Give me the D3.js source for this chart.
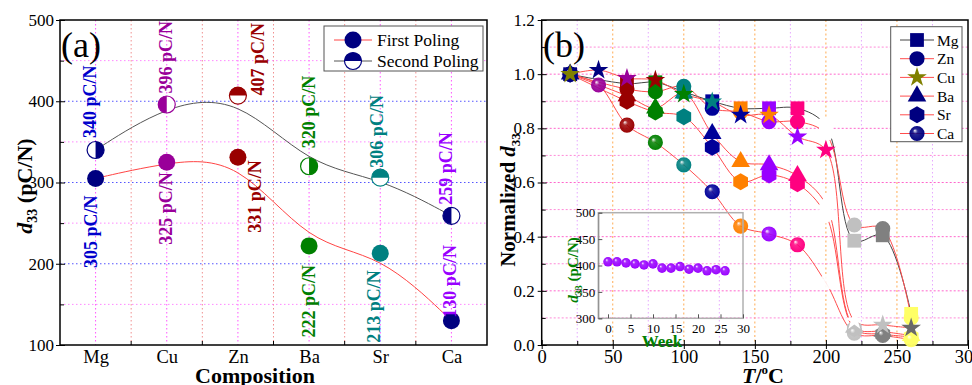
<!DOCTYPE html>
<html>
<head>
<meta charset="utf-8">
<script src="https://cdn.jsdelivr.net/npm/d3@7"></script>
<style>
body { margin: 0; background: #fff; }
svg text { font-family: "Liberation Serif", "Times New Roman", serif; }
</style>
</head>
<body>
<div id="chart"></div>
<script>
// ---- panel (a) data ----
var compositions = ["Mg", "Cu", "Zn", "Ba", "Sr", "Ca"];
var firstPoling = [305, 325, 331, 222, 213, 130];
var secondPoling = [340, 396, 407, 320, 306, 259];
var pointColors = ["#000080", "#990099", "#990000", "#008000", "#008080", "#000080"];
var labelColors = ["#0000cc", "#990099", "#990000", "#008000", "#008080", "#9900ff"];
var aTicks = [100, 200, 300, 400, 500];

// ---- panel (b) data ----
var temps = [20, 40, 60, 80, 100, 120, 140, 160, 180, 200, 220, 240, 260];
var mgVals = [1.0, null, 0.965, 0.97, 0.935, 0.90, 0.874, 0.874, 0.874, 0.81, 0.385, 0.405, 0.115];
var znVals = [1.0, null, 0.945, 0.935, 0.955, 0.874, 0.86, 0.825, 0.825, 0.78, 0.443, 0.43, 0.10];
var cuVals = [1.0, 1.015, 0.985, 0.978, 0.926, 0.898, 0.849, 0.849, 0.769, 0.72, 0.09, 0.074, 0.063];
var baVals = [1.0, null, 0.92, 0.875, 0.93, 0.78, 0.677, 0.665, 0.625, 0.52, 0.065, 0.05, 0.035];
var srVals = [1.0, null, 0.90, 0.86, 0.843, 0.73, 0.603, 0.628, 0.595, 0.48, 0.06, 0.04, 0.03];
var caVals = [1.0, 0.96, 0.812, 0.748, 0.665, 0.566, 0.439, 0.41, 0.37, 0.23, 0.044, 0.035, 0.02];
var tempColors = ["#000080", "#990099", "#990000", "#008000", "#008080", "#000099", "#ff8000",
                  "#9900ff", "#ff0080", "#ffffff", "#c0c0c0", "#808080", "#ffff66"];
var cuColors = ["#808000", "#000080", "#990099", "#990000", "#008000", "#008080", "#000099",
                "#ff8000", "#9900ff", "#ff0080", "#ffffff", "#c0c0c0", "#6a6a6a"];
var bTicksX = [0, 50, 100, 150, 200, 250, 300];
var bTicksY = [0, 0.2, 0.4, 0.6, 0.8, 1.0, 1.2];

// ---- inset data ----
var weeks = [0, 2, 4, 6, 8, 10, 12, 14, 16, 18, 20, 22, 24, 26];
var weekD33 = [407, 407, 405, 403, 401, 403, 395, 395, 398, 393, 395, 390, 392, 390];
var insetTicksX = [0, 5, 10, 15, 20, 25, 30];
var insetTicksY = [300, 350, 400, 450, 500];

var svg = d3.select("#chart").append("svg")
    .attr("width", 972)
    .attr("height", 385);

var defs = svg.append("defs");

// ================= panel (a) =================
var aLeft = 60, aRight = 487, aTop = 20, aBottom = 345;

var xA = d3.scalePoint().domain(compositions).range([aLeft, aRight]).padding(0.5);
var yA = d3.scaleLinear().domain([100, 500]).range([aBottom, aTop]);
var stepA = xA.step();

var gA = svg.append("g");

// grid
compositions.forEach(function(c, i) {
    gA.append("line").attr("x1", xA(c)).attr("x2", xA(c)).attr("y1", aTop).attr("y2", aBottom)
        .attr("stroke", "#ff55ff").attr("stroke-dasharray", "1.5,2.5");
    if (i < compositions.length - 1) {
        gA.append("line").attr("x1", xA(c) + stepA / 2).attr("x2", xA(c) + stepA / 2)
            .attr("y1", aTop).attr("y2", aBottom)
            .attr("stroke", "#f09090").attr("stroke-dasharray", "1.5,2.5");
    }
});
[150, 250, 350, 450].forEach(function(v) {
    gA.append("line").attr("x1", aLeft).attr("x2", aRight).attr("y1", yA(v)).attr("y2", yA(v))
        .attr("stroke", "#ff88ff").attr("stroke-dasharray", "1.5,2.5");
});
[200, 300, 400].forEach(function(v) {
    gA.append("line").attr("x1", aLeft).attr("x2", aRight).attr("y1", yA(v)).attr("y2", yA(v))
        .attr("stroke", "#5555ff").attr("stroke-dasharray", "1.5,2.5");
});

// axes
var yAxisA = gA.append("g").attr("transform", "translate(" + aLeft + ",0)")
    .call(d3.axisLeft(yA).tickValues(aTicks).tickSize(4).tickPadding(2));
yAxisA.selectAll(".tick line").attr("x2", -4).attr("x1", 5);
yAxisA.select(".domain").remove();
yAxisA.selectAll("text").attr("font-size", 17).attr("fill", "#000")
    .style("font-family", "Liberation Serif");
gA.append("g").attr("transform", "translate(" + aLeft + ",0)")
    .call(d3.axisLeft(yA).tickValues([150, 250, 350, 450]).tickSize(-4).tickFormat(""))
    .select(".domain").remove();

var xAxisA = gA.append("g").attr("transform", "translate(0," + aBottom + ")")
    .call(d3.axisBottom(xA).tickSize(0).tickPadding(5));
xAxisA.select(".domain").remove();
xAxisA.selectAll("text").attr("font-size", 18.5).attr("fill", "#000")
    .style("font-family", "Liberation Serif");
compositions.slice(0, -1).forEach(function(c) {
    gA.append("line").attr("x1", xA(c) + stepA / 2).attr("x2", xA(c) + stepA / 2)
        .attr("y1", aBottom).attr("y2", aBottom - 4).attr("stroke", "#000");
});

gA.append("rect").attr("x", aLeft).attr("y", aTop)
    .attr("width", aRight - aLeft).attr("height", aBottom - aTop)
    .attr("fill", "none").attr("stroke", "#000").attr("stroke-width", 1.5);

// fitted curves
var lineA = d3.line().x(function(d, i) { return xA(compositions[i]); })
    .y(function(d) { return yA(d); }).curve(d3.curveBasis);
gA.append("path").attr("d", lineA(secondPoling)).attr("fill", "none")
    .attr("stroke", "#555").attr("stroke-width", 1);
gA.append("path").attr("d", lineA(firstPoling)).attr("fill", "none")
    .attr("stroke", "#ff4444").attr("stroke-width", 1);

var halfArc = d3.arc().innerRadius(0).outerRadius(8.5);
// which half of the second-poling markers is coloured (angle of the filled half)
var halfAngle = [90, 270, 0, 90, 0, 270];

function halfCircle(g, cx, cy, color, angle) {
    g.append("circle").attr("cx", cx).attr("cy", cy).attr("r", 8.5)
        .attr("fill", "#fff").attr("stroke", color).attr("stroke-width", 1.2);
    g.append("path")
        .attr("d", halfArc({ startAngle: -Math.PI / 2, endAngle: Math.PI / 2 }))
        .attr("transform", "translate(" + cx + "," + cy + ") rotate(" + angle + ")")
        .attr("fill", color);
}

compositions.forEach(function(c, i) {
    gA.append("circle").attr("cx", xA(c)).attr("cy", yA(firstPoling[i])).attr("r", 8.5)
        .attr("fill", pointColors[i]);
    halfCircle(gA, xA(c), yA(secondPoling[i]), pointColors[i], halfAngle[i]);
});

// value labels: [dx, gap] offsets for second (above) and first (below) labels
var secondLabelPos = [[0, 12], [5, 11], [26, 0], [6, 18], [3, 10], [1, 11]];
var firstLabelPos = [[1, 17], [5, 10], [23, 3], [6, 19], [0, 17], [5, -3]];

compositions.forEach(function(c, i) {
    var x2 = xA(c) + secondLabelPos[i][0], y2 = yA(secondPoling[i]) - secondLabelPos[i][1];
    gA.append("text").attr("transform", "translate(" + x2 + "," + y2 + ") rotate(-90)")
        .attr("font-size", 18).attr("font-weight", "bold").attr("fill", labelColors[i])
        .text(secondPoling[i] + " pC/N");
    var x1 = xA(c) + firstLabelPos[i][0];
    var y1 = yA(firstPoling[i]) + firstLabelPos[i][1];
    var anchor = "end";
    if (i === 5) { y1 = yA(firstPoling[i]) - 3; anchor = "start"; }
    gA.append("text").attr("transform", "translate(" + x1 + "," + y1 + ") rotate(-90)")
        .attr("font-size", 18).attr("font-weight", "bold").attr("fill", labelColors[i])
        .attr("text-anchor", anchor)
        .text(firstPoling[i] + " pC/N");
});

gA.append("text").attr("x", 61).attr("y", 57).attr("font-size", 36).text("(a)");

// legend (a)
var legA = gA.append("g");
legA.append("rect").attr("x", 324).attr("y", 26).attr("width", 159).attr("height", 45)
    .attr("fill", "#fff").attr("stroke", "#555").attr("stroke-width", 1);
legA.append("line").attr("x1", 334).attr("x2", 372).attr("y1", 40).attr("y2", 40).attr("stroke", "#ff4444");
legA.append("circle").attr("cx", 353).attr("cy", 40).attr("r", 8.5).attr("fill", "#000080");
legA.append("text").attr("x", 377).attr("y", 46).attr("font-size", 17.5).text("First Poling");
legA.append("line").attr("x1", 334).attr("x2", 372).attr("y1", 61).attr("y2", 61).attr("stroke", "#555");
halfCircle(legA, 353, 61, "#000080", 0);
legA.append("text").attr("x", 377).attr("y", 67).attr("font-size", 17.5).text("Second Poling");

// axis titles (a)
var ylabA = gA.append("text").attr("transform", "translate(32,186) rotate(-90)")
    .attr("text-anchor", "middle").attr("font-size", 22).attr("font-weight", "bold");
ylabA.append("tspan").attr("font-style", "italic").text("d");
ylabA.append("tspan").attr("font-size", 14).attr("dy", 5).text("33");
ylabA.append("tspan").attr("dy", -5).text(" (pC/N)");

gA.append("text").attr("x", 255).attr("y", 383).attr("text-anchor", "middle")
    .attr("font-size", 22).attr("font-weight", "bold").text("Composition");

// ================= panel (b) =================
var bLeft = 541.7, bRight = 968, bTop = 20, bBottom = 345;
var xB = d3.scaleLinear().domain([0, 300]).range([bLeft, bRight]);
var yB = d3.scaleLinear().domain([0, 1.2]).range([bBottom, bTop]);

var gB = svg.append("g");

// grid
d3.range(25, 300, 50).forEach(function(v) {
    gB.append("line").attr("x1", xB(v)).attr("x2", xB(v)).attr("y1", bTop).attr("y2", bBottom)
        .attr("stroke", "#e6a8ff").attr("stroke-dasharray", "1.5,2.5");
});
d3.range(50, 300, 50).forEach(function(v) {
    gB.append("line").attr("x1", xB(v)).attr("x2", xB(v)).attr("y1", bTop).attr("y2", bBottom)
        .attr("stroke", "#ffab55").attr("stroke-dasharray", "2,2.5");
});
d3.range(1, 12).forEach(function(k) {
    var v = k / 10;
    gB.append("line").attr("x1", bLeft).attr("x2", bRight).attr("y1", yB(v)).attr("y2", yB(v))
        .attr("stroke", k % 2 ? "#ff8ad8" : "#ff66cc").attr("stroke-dasharray", "2,2");
});

// axes
var yAxisB = gB.append("g").attr("transform", "translate(" + bLeft + ",0)")
    .call(d3.axisLeft(yB).tickValues(bTicksY).tickFormat(d3.format(".1f")).tickSize(4).tickPadding(3));
yAxisB.selectAll(".tick line").attr("x2", -4).attr("x1", 5);
yAxisB.select(".domain").remove();
yAxisB.selectAll("text").attr("font-size", 17).attr("fill", "#000")
    .style("font-family", "Liberation Serif");
gB.append("g").attr("transform", "translate(" + bLeft + ",0)")
    .call(d3.axisLeft(yB).tickValues([0.1, 0.3, 0.5, 0.7, 0.9, 1.1]).tickSize(-4).tickFormat(""))
    .select(".domain").remove();

var xAxisB = gB.append("g").attr("transform", "translate(0," + bBottom + ")")
    .call(d3.axisBottom(xB).tickValues(bTicksX).tickSize(4).tickPadding(1));
xAxisB.selectAll(".tick line").attr("y2", 4).attr("y1", -5);
xAxisB.select(".domain").remove();
xAxisB.selectAll("text").attr("font-size", 18.5).attr("fill", "#000")
    .style("font-family", "Liberation Serif");
gB.append("g").attr("transform", "translate(0," + bBottom + ")")
    .call(d3.axisBottom(xB).tickValues(d3.range(25, 300, 50)).tickSize(-4).tickFormat(""))
    .select(".domain").remove();

gB.append("rect").attr("x", bLeft).attr("y", bTop)
    .attr("width", bRight - bLeft).attr("height", bBottom - bTop)
    .attr("fill", "none").attr("stroke", "#000").attr("stroke-width", 1.5);

// sphere gradients
function sphereFill(color, id) {
    var grad = defs.append("radialGradient").attr("id", id)
        .attr("cx", "50%").attr("cy", "50%").attr("r", "55%")
        .attr("fx", "35%").attr("fy", "30%");
    grad.append("stop").attr("offset", "0%").attr("stop-color", "#fff");
    grad.append("stop").attr("offset", "30%").attr("stop-color", color).attr("stop-opacity", 0.85);
    grad.append("stop").attr("offset", "100%").attr("stop-color", color);
    return "url(#" + id + ")";
}
var sphereFills = tempColors.map(function(c, i) { return sphereFill(c, "sph" + i); });
var insetSphere = sphereFill("#9900ff", "sphInset");

// marker shapes
function hexPath(r) {
    var pts = d3.range(6).map(function(k) {
        var a = Math.PI / 3 * k;
        return [r * Math.sin(a), -r * Math.cos(a)];
    });
    return "M" + pts.join("L") + "Z";
}
var shapes = {
    square: d3.symbol().type(d3.symbolSquare).size(190)(),
    circle: d3.symbol().type(d3.symbolCircle).size(180)(),
    star: d3.symbol().type(d3.symbolStar).size(120)(),
    triangle: d3.symbol().type(d3.symbolTriangle).size(150)(),
    hexagon: hexPath(8.5),
    sphere: d3.symbol().type(d3.symbolCircle).size(180)()
};

var series = [
    { name: "Mg", values: mgVals, shape: "square", line: "#444" },
    { name: "Zn", values: znVals, shape: "circle", line: "#ff4d4d" },
    { name: "Ba", values: baVals, shape: "triangle", line: "#ff4d4d" },
    { name: "Sr", values: srVals, shape: "hexagon", line: "#ff4d4d" },
    { name: "Ca", values: caVals, shape: "sphere", line: "#ff4d4d" },
    { name: "Cu", values: cuVals, shape: "star", line: "#ff4d4d" }
];

var lineB = d3.line()
    .defined(function(d) { return d.v !== null; })
    .x(function(d) { return xB(d.t); })
    .y(function(d) { return yB(d.v); })
    .curve(d3.curveCatmullRom.alpha(0.5));

series.forEach(function(s) {
    var pts = temps.map(function(t, i) { return { t: t, v: s.values[i] }; })
        .filter(function(d) { return d.v !== null; });
    gB.append("path").attr("d", lineB(pts)).attr("fill", "none")
        .attr("stroke", s.line).attr("stroke-width", 1);
});

series.forEach(function(s) {
    temps.forEach(function(t, i) {
        var v = s.values[i];
        if (v === null) return;
        var fill;
        if (s.shape === "star") fill = cuColors[i];
        else if (s.shape === "sphere") fill = sphereFills[i];
        else fill = tempColors[i];
        gB.append("path").attr("d", shapes[s.shape])
            .attr("transform", "translate(" + xB(t) + "," + yB(v) + ")")
            .attr("fill", fill);
    });
});

gB.append("text").attr("x", 543).attr("y", 57).attr("font-size", 36).text("(b)");

// legend (b)
var legendOrder = ["Mg", "Zn", "Cu", "Ba", "Sr", "Ca"];
var legendShapes = ["square", "circle", "star", "triangle", "hexagon", "sphere"];
var legB = gB.append("g");
legB.append("rect").attr("x", 890.7).attr("y", 26.7).attr("width", 71.3).attr("height", 115)
    .attr("fill", "#fff").attr("stroke", "#555").attr("stroke-width", 1);
legendOrder.forEach(function(name, i) {
    var y = 40 + i * 18.7;
    legB.append("line").attr("x1", 900).attr("x2", 934).attr("y1", y).attr("y2", y)
        .attr("stroke", i === 0 ? "#444" : "#ff4d4d");
    var fill = "#000080";
    if (name === "Cu") fill = "#808000";
    if (name === "Ca") fill = sphereFills[0];
    legB.append("path").attr("d", shapes[legendShapes[i]])
        .attr("transform", "translate(917," + y + ")").attr("fill", fill);
    legB.append("text").attr("x", 937).attr("y", y + 5.5).attr("font-size", 15.5).text(name);
});

// axis titles (b)
var ylabB = gB.append("text").attr("transform", "translate(515,200) rotate(-90)")
    .attr("text-anchor", "middle").attr("font-size", 21).attr("font-weight", "bold");
ylabB.append("tspan").text("Normalized ");
ylabB.append("tspan").attr("font-style", "italic").text("d");
ylabB.append("tspan").attr("font-size", 13).attr("dy", 5).text("33");

var xlabB = gB.append("text").attr("x", 763).attr("y", 383).attr("text-anchor", "middle")
    .attr("font-size", 22).attr("font-weight", "bold");
xlabB.append("tspan").attr("font-style", "italic").text("T");
xlabB.append("tspan").text("/");
xlabB.append("tspan").attr("font-size", 13).attr("dy", -9).text("o");
xlabB.append("tspan").attr("dy", 9).text("C");

// ================= inset =================
var xI = d3.scaleLinear().domain([0, 30]).range([608, 743]);
var yI = d3.scaleLinear().domain([300, 500]).range([318.3, 212.7]);
var gI = svg.append("g");

gI.append("rect").attr("x", 598.3).attr("y", yI(500)).attr("width", 743 - 598.3)
    .attr("height", yI(300) - yI(500)).attr("fill", "none")
    .attr("stroke", "#b0b0b0").attr("stroke-width", 1.5);

var yAxisI = gI.append("g").attr("transform", "translate(598.3,0)")
    .call(d3.axisLeft(yI).tickValues(insetTicksY).tickSize(-4).tickPadding(3));
yAxisI.select(".domain").attr("stroke", "#888");
yAxisI.selectAll(".tick line").attr("stroke", "#555");
yAxisI.selectAll("text").attr("font-size", 13).attr("fill", "#000")
    .style("font-family", "Liberation Serif");

var xAxisI = gI.append("g").attr("transform", "translate(0," + yI(300) + ")")
    .call(d3.axisBottom(xI).tickValues(insetTicksX).tickSize(-4).tickPadding(5));
xAxisI.select(".domain").remove();
xAxisI.selectAll(".tick line").attr("stroke", "#555");
xAxisI.selectAll("text").attr("font-size", 13).attr("fill", "#000")
    .style("font-family", "Liberation Serif");

weeks.forEach(function(w, i) {
    gI.append("circle").attr("cx", xI(w)).attr("cy", yI(weekD33[i])).attr("r", 4.8)
        .attr("fill", insetSphere);
});

var ylabI = gI.append("text").attr("transform", "translate(578,270) rotate(-90)")
    .attr("text-anchor", "middle").attr("font-size", 15).attr("font-weight", "bold")
    .attr("fill", "#008000");
ylabI.append("tspan").attr("font-style", "italic").text("d");
ylabI.append("tspan").attr("font-size", 10).attr("dy", 4).text("33");
ylabI.append("tspan").attr("dy", -4).text(" (pC/N)");

gI.append("text").attr("x", 662).attr("y", 347).attr("text-anchor", "middle")
    .attr("font-size", 17).attr("font-weight", "bold").attr("fill", "#008000").text("Week");
</script>
</body>
</html>
